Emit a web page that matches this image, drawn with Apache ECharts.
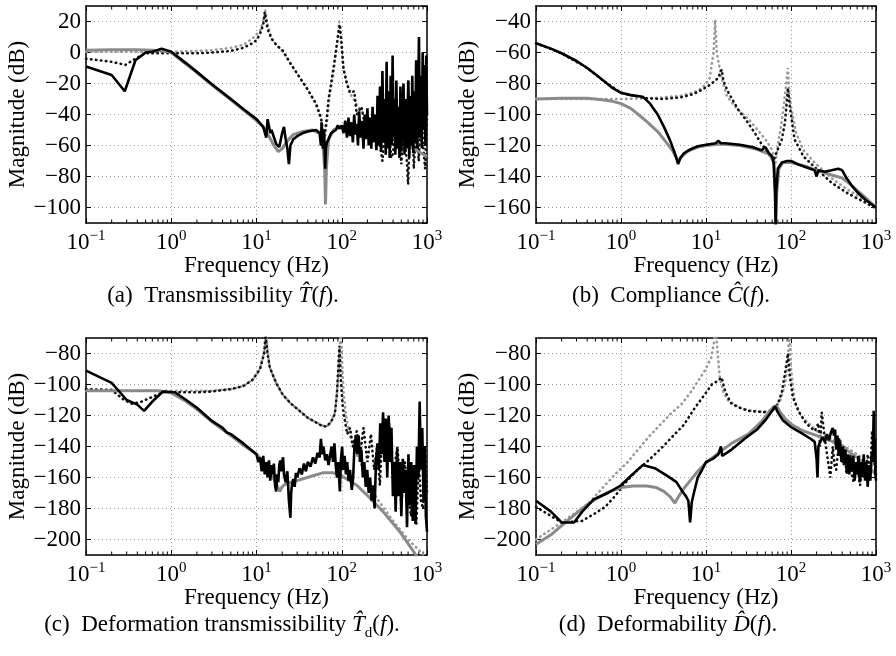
<!DOCTYPE html>
<html>
<head>
<meta charset="utf-8">
<script src="https://cdn.jsdelivr.net/npm/echarts@6/dist/echarts.min.js"></script>
<style>
  html, body { margin: 0; padding: 0; background: #fff; }
  #chart { width: 896px; height: 656px; }
</style>
</head>
<body>
<div id="chart"></div>
<script>
// (a) transmissibility
const aGraySolid = [[0.1, 1.5], [0.2, 1.8], [0.4, 1.8], [0.6, 1.5], [0.8, 1], [1, 0], [1.5, -7.7], [2, -13], [3, -21], [5, -30.5], [7, -37], [10, -44], [12, -48], [14, -54], [16, -60], [18, -64], [20, -62], [23, -57], [27, -53], [35, -51], [45, -50], [55, -52], [60, -58], [63, -75], [64.5, -98], [66, -75], [70, -56], [80, -50], [100, -48], [150, -48], [200, -49], [300, -52], [400, -55], [600, -60], [800, -64], [1000, -67]]
const aBlackSolid = [[0.1, -9], [0.2, -14.5], [0.285, -25], [0.38, -5], [0.5, 0], [0.6, 0.5], [0.77, 2.5], [1, 0.5], [1.5, -7], [2, -12.5], [3, -20.5], [5, -30], [7, -36.5], [10, -43], [12, -48], [13, -55], [13.5, -43], [14.5, -52], [15, -50], [17, -59], [18.5, -61], [20, -52], [21, -48], [22, -56], [23, -62], [24, -72], [25, -60], [27, -56], [30, -54], [35, -52], [40, -51], [50, -50], [55, -52], [57, -60], [58, -45], [60, -62], [62, -50], [64, -75], [65, -62], [67, -58], [70, -56], [75, -52], [85, -50], [90, -47], [95, -49],
  [100, -47], [105, -52], [110, -44], [115, -55], [120, -42], [125, -54], [130, -45], [135, -58], [140, -40], [145, -53], [150, -46], [155, -60], [160, -38], [167, -55], [173, -44], [180, -62], [186, -40], [193, -56], [200, -36], [207, -60], [214, -42], [222, -62], [230, -35], [238, -58], [246, -40], [255, -63], [263, -28], [272, -60], [281, -22], [290, -64], [300, -12], [310, -58], [320, -30], [328, -66], [336, -6], [345, -62], [355, -25], [365, -68], [375, -15], [385, -60], [395, -2], [405, -55], [415, -30], [425, -66], [437, -18], [450, -62], [462, -35], [475, -68], [488, -22], [500, -64], [515, -40], [530, -20], [545, -66], [560, -30], [575, -62], [590, -40], [605, -18], [620, -68], [637, -28], [655, -60], [672, -15], [690, -65], [708, -25], [727, -58], [746, -5], [765, -62], [785, -30], [805, 10], [825, -55], [846, -15], [868, -62], [890, 0], [912, -50], [935, -8], [958, -60], [980, -2], [1000, -40]]
const aGrayDotted = [[0.1, 0.5], [0.5, 0.5], [1, 0.5], [2, 1], [3, 1.5], [5, 3], [7, 5], [9, 9], [11, 14], [12.3, 22], [12.7, 27], [13.3, 20], [15, 9], [17, 5], [20, 1], [25, -7], [32, -16], [40, -24], [50, -34], [57, -43], [62, -58], [66, -48], [72, -28], [80, -14], [88, 5], [93, 20], [97, 10], [103, -8], [115, -20], [130, -28], [160, -36], [200, -42], [300, -50], [500, -58], [700, -62], [1000, -67]]
const aBlackDotted = [[0.1, -4], [0.2, -6], [0.29, -8], [0.38, -4], [0.5, -0.5], [1, -0.5], [2, -0.5], [3, 0], [5, 1], [7, 3], [9, 6], [10, 8], [11, 12], [12, 18], [12.5, 26], [13.5, 15], [15, 9], [17, 5], [20.5, 1], [25, -7], [32, -16], [40, -24], [50, -33], [57, -42], [62, -55], [66, -45], [70, -30], [75, -20], [80, -10], [85, 0], [90, 10], [95, 18], [100, 5], [105, -11], [115, -20], [125, -26], [140, -25], [150, -40], [170, -35], [200, -55], [230, -42], [250, -45], [280, -60], [300, -70], [330, -40], [350, -42], [380, -68], [400, -65], [430, -45], [450, -50], [480, -60], [500, -72], [530, -45], [550, -55], [580, -70], [600, -85], [630, -50], [650, -60], [680, -45], [700, -75], [750, -45], [800, -70], [850, -30], [900, -60], [950, -75], [1000, -40]]

// (b) compliance
const bGraySolid = [[0.1, -90], [0.2, -89.5], [0.4, -89.5], [0.6, -90.5], [0.8, -91.5], [1, -93], [1.3, -96], [1.6, -100], [2, -104.5], [2.7, -111], [3.3, -117], [4, -123], [4.7, -130], [5.2, -127], [6, -124], [8, -121], [10, -120], [15, -119], [25, -120], [40, -122.5], [55, -125.5], [62, -130], [65, -150], [66, -172], [68, -150], [72, -135], [80, -131], [100, -131], [150, -133.5], [200, -136], [300, -139], [400, -141], [500, -145], [600, -149], [800, -155], [1000, -160]]
const bBlackSolid = [[0.1, -54], [0.15, -57.5], [0.2, -60.5], [0.3, -65.5], [0.4, -70], [0.5, -74], [0.65, -79], [0.8, -83], [1, -86], [1.3, -87.5], [1.8, -88.5], [2.2, -93], [2.7, -100], [3.2, -108], [3.8, -117], [4.3, -125], [4.7, -132], [5, -128], [5.5, -125], [6.5, -122.5], [8, -120.5], [10, -119.5], [13, -118.5], [14, -117], [15, -118.5], [17, -118.5], [25, -119.5], [35, -121], [45, -123], [50, -121], [55, -125], [60, -127], [63, -132], [65, -150], [66, -172], [67, -150], [70, -135], [78, -131], [90, -130], [100, -130], [120, -132], [150, -134], [190, -136], [200, -140], [210, -136], [250, -137], [300, -136], [360, -135], [400, -136], [450, -141], [520, -146], [600, -150], [750, -155], [1000, -160]]
const bGrayDotted = [[0.1, -90], [0.5, -90], [1, -90], [2, -89.5], [3, -89], [5, -88], [7, -86], [9, -83], [11, -77], [12.3, -60], [12.8, -39], [13.4, -60], [15, -75], [17.6, -88], [22, -95], [32.8, -104], [42, -111], [51.5, -117], [60, -123], [66, -131], [70, -120], [74, -112], [80, -100], [86, -85], [90, -75], [92, -70], [95, -85], [100, -95], [115, -112], [140, -123], [197, -132], [315, -142], [450, -148], [640, -153], [1000, -160]]
const bBlackDotted = [[0.1, -54], [0.2, -60.5], [0.4, -70], [0.65, -79], [1, -86], [1.5, -88], [2, -89.5], [3, -90], [5, -89], [7, -87], [9, -84], [11, -81], [13, -78], [14, -76], [15.3, -71], [16, -78], [18, -85], [24, -97], [30, -104], [37.6, -112], [45, -119], [54, -125], [62, -130], [68, -124], [77.6, -116.6], [85, -105], [92, -83], [97, -95], [110, -116], [140, -127], [190, -134], [300, -144], [470, -151], [700, -156], [1000, -160.5]]

// (c) deformation transmissibility
const cGraySolid = [[0.1, -104], [0.3, -104], [0.5, -104], [0.7, -104], [1, -105.5], [1.5, -111], [2, -116], [3, -124], [5, -133], [7, -139], [10, -145], [13, -152], [15, -158], [17, -164], [18.7, -169], [20, -166], [22, -164], [30, -162], [45, -159], [60, -157], [80, -157], [100, -159], [150, -165], [195, -171], [305, -182], [480, -195], [690, -207.5], [760, -211]]
const cBlackSolid = [[0.1, -91], [0.2, -99], [0.3, -110], [0.4, -113], [0.48, -117], [0.6, -111], [0.8, -104.5], [1.1, -105], [1.5, -110], [2, -115], [3, -123.5], [4, -128], [4.5, -131], [5, -132], [7, -138],
  [10, -145], [10.5, -150], [11, -147], [11.5, -156], [12, -146], [12.5, -158], [13, -150], [13.5, -160], [14, -149], [14.5, -162], [15, -152], [15.5, -158], [16, -151], [16.5, -165], [17, -169], [17.5, -158], [18, -163], [18.5, -152], [19, -149], [19.5, -156], [20, -150], [20.5, -147], [21, -158], [22, -163], [23, -156], [24, -175], [25, -186], [25.5, -170], [26, -165], [27, -161], [28, -166], [29, -157], [30, -160], [32, -154], [34, -158], [36, -151], [38, -156], [40, -150], [43, -153], [46, -147], [49, -151], [52, -144], [55, -147], [57, -135], [59, -145], [61, -140], [64, -149], [67, -145], [70, -152], [73, -146], [76, -140], [79, -150], [82, -138], [85, -152], [88, -160], [91, -150], [95, -169], [98, -148], [101, -140], [104, -155], [108, -146], [112, -158], [116, -150], [120, -162], [125, -155], [131, -168], [136, -160], [141, -140], [146, -134], [152, -145], [158, -133], [164, -150], [170, -142], [177, -160], [184, -150], [191, -166], [199, -155], [207, -170], [215, -160], [224, -175], [233, -165], [243, -180], [252, -150], [262, -138], [272, -155], [283, -125], [294, -145], [305, -118], [317, -150], [329, -122], [342, -160], [355, -120], [369, -150], [383, -128], [398, -172], [413, -150], [429, -182], [446, -142], [463, -172], [481, -150], [500, -185], [520, -148], [540, -170], [561, -155], [583, -192], [606, -145], [630, -178], [654, -150], [680, -188], [706, -152], [733, -190], [762, -140], [792, -160], [820, -111], [850, -155], [880, -128], [910, -175], [940, -140], [970, -185], [1000, -195]]
const cGrayDotted = [[0.1, -104], [0.5, -104], [1, -104], [2, -104], [3, -104], [5, -103], [7, -101], [9, -97], [11, -90], [12.4, -78], [12.9, -65], [13.5, -78], [14.3, -89], [17, -99], [20.3, -106.5], [25, -112], [32, -117], [40, -121.5], [50, -124.5], [60, -126.5], [67, -127], [75, -124], [83, -118], [88, -105], [92, -90], [95, -75], [97, -65], [100, -80], [105, -105], [112, -120], [120, -130], [140, -142], [165, -150], [200, -163], [270, -175], [400, -188], [600, -200], [1000, -212]]
const cBlackDotted = [[0.1, -103], [0.2, -103.5], [0.28, -110], [0.35, -112.5], [0.45, -111], [0.6, -108], [0.8, -105], [1, -105], [2, -105], [3, -104.5], [5, -103], [7, -101], [9, -97], [11, -90], [12.3, -80], [12.8, -68], [13.5, -80], [14.3, -89], [17, -99], [20.3, -106.5], [25, -112], [32, -117], [40, -121.5], [50, -124.5], [60, -127], [67, -127], [75, -124], [83, -119], [88, -105], [91, -89], [94, -75], [97, -95], [103, -115], [110, -125], [116, -132], [125, -128], [135, -140], [150, -130], [165, -145], [180, -128], [200, -150], [220, -132], [240, -155], [260, -140], [280, -165], [300, -125], [330, -150], [360, -125], [400, -160], [450, -140], [500, -178], [550, -150], [600, -170], [650, -185], [700, -160], [750, -190], [800, -150], [850, -175], [900, -180], [950, -140], [1000, -170]]

// (d) deformability
const dGraySolid = [[0.1, -203], [0.15, -197], [0.2, -191], [0.3, -183], [0.4, -177.5], [0.5, -174], [0.7, -169.5], [1, -166.5], [1.4, -165.5], [2, -165.5], [2.6, -166.5], [3.2, -169], [3.8, -172.5], [4.3, -176.5], [4.8, -172], [5.5, -167], [6.2, -163.5], [8, -156], [10, -150.5], [15, -143], [20, -138], [31.5, -132], [45, -124], [55, -118], [62, -114.5], [68, -114], [75, -118], [85, -122], [103, -126], [140, -130], [190, -132.5], [300, -136.5], [470, -143], [700, -150], [1000, -158]]
const dBlackSolid = [[0.1, -175], [0.15, -182], [0.2, -189], [0.28, -189], [0.35, -182], [0.48, -174], [0.7, -170], [1, -165], [1.3, -159], [1.8, -152], [2.5, -154], [3.5, -159], [4.5, -163], [5.2, -168.5], [5.8, -172], [6.2, -175], [6.5, -189], [6.8, -176], [7.2, -170], [8, -160], [9, -155], [10, -150], [12, -148], [14, -145], [15, -140], [15.5, -146], [20, -142], [30, -134], [40, -129], [50, -123], [60, -117], [65, -114], [70, -118], [80, -123], [100, -127.5], [130, -131], [170, -135],
  [190, -137], [200, -148], [205, -160], [210, -140], [220, -137], [235, -134], [250, -137], [265, -132], [280, -136], [295, -131], [310, -128], [320, -133], [330, -129], [340, -142], [352, -133], [365, -146], [378, -136], [392, -150], [406, -140], [420, -152], [436, -142], [452, -156], [468, -145], [485, -158], [503, -147], [521, -155], [540, -146], [560, -162], [580, -150], [601, -158], [622, -146], [645, -163], [668, -150], [692, -160], [717, -145], [743, -162], [770, -150], [798, -166], [827, -152], [857, -162], [888, -145], [915, -150], [940, -117], [955, -150], [970, -135], [985, -158], [1000, -162]]
const dGrayDotted = [[0.1, -200], [0.2, -189], [0.41, -177], [0.6, -167], [0.85, -158], [1.2, -150], [2.1, -134], [3, -125], [4, -118], [5.2, -112.5], [7, -103], [9.7, -91], [11.5, -83], [12.5, -72], [13, -60], [13.5, -75], [14.5, -95], [16, -105], [18, -110], [25, -115], [35, -117], [50, -117.5], [65, -115], [75, -110], [85, -100], [92, -85], [96, -60], [100, -90], [110, -110], [130, -120], [200, -130], [300, -135], [600, -145], [1000, -155]]
const dBlackDotted = [[0.1, -179], [0.2, -189], [0.35, -188], [0.5, -183], [0.65, -179], [0.85, -172], [1.1, -164], [1.5, -156], [2.1, -149], [3, -141], [4.3, -132], [5.5, -126], [7.4, -115], [9.5, -107], [11.7, -100], [13.5, -98], [15.3, -95.5], [16.5, -103], [18, -108], [20, -112.5], [25, -115], [31.5, -117], [40, -117.5], [54, -118], [62, -116], [70, -112.5], [78, -105], [85, -93], [92, -80], [97, -95], [105, -108], [122, -117], [150, -125], [190, -130], [210, -125], [220, -140], [230, -118], [250, -135], [270, -148], [290, -160], [310, -140], [325, -152], [340, -155], [370, -135], [400, -150], [425, -140], [450, -158], [500, -145], [525, -160], [550, -163], [600, -152], [650, -165], [700, -150], [750, -160], [800, -145], [850, -160], [900, -130], [950, -150], [1000, -158]]

const minorTicks = [0.2, 0.3, 0.4, 0.5, 0.6, 0.7, 0.8, 0.9, 2, 3, 4, 5, 6, 7, 8, 9, 20, 30, 40, 50, 60, 70, 80, 90, 200, 300, 400, 500, 600, 700, 800, 900]
const yRanges = [[-110, 30], [-170, -30], [-210, -70], [-210, -70]]

const FONT = 'Liberation Serif'
const FS = 23
const panels = [
  { grid: { left: 86, top: 6, width: 341, height: 217 }, data: [aGrayDotted, aBlackDotted, aGraySolid, aBlackSolid] },
  { grid: { left: 536, top: 6, width: 340, height: 217 }, data: [bGrayDotted, bBlackDotted, bGraySolid, bBlackSolid] },
  { grid: { left: 86, top: 338, width: 341, height: 217 }, data: [cGrayDotted, cBlackDotted, cGraySolid, cBlackSolid] },
  { grid: { left: 536, top: 338, width: 340, height: 217 }, data: [dGrayDotted, dBlackDotted, dGraySolid, dBlackSolid] }
]
const lineStyles = [
  { color: '#9a9a9a', width: 2.6, type: [0.5, 4.5], cap: 'round' },
  { color: '#111', width: 2.6, type: [0.5, 4.5], cap: 'round' },
  { color: '#8a8a8a', width: 3, type: 'solid' },
  { color: '#000', width: 2.6, type: 'solid' }
]

const axisLine = { onZero: false, lineStyle: { color: '#000', width: 1.5 } }
const grids = []
const xAxes = []
const yAxes = []
const series = []

panels.forEach((p, i) => {
  grids.push(p.grid)
  const [ymin, ymax] = yRanges[i]
  xAxes.push({
    type: 'log', logBase: 10, min: 0.1, max: 1000, gridIndex: i,
    name: 'Frequency (Hz)', nameLocation: 'middle', nameGap: 17,
    nameTextStyle: { fontFamily: FONT, fontSize: FS, color: '#000' },
    axisLine: axisLine,
    axisTick: { inside: true, length: 5, lineStyle: { color: '#000' } },
    splitLine: { show: true, lineStyle: { color: '#999', type: [1, 3], width: 1 } },
    axisLabel: {
      margin: 6,
      formatter: (v) => {
        const e = Math.round(Math.log10(v))
        return '{b|10}{s|' + (e < 0 ? '\u2212' + (-e) : e) + '}'
      },
      rich: {
        b: { fontFamily: FONT, fontSize: FS, color: '#000', lineHeight: 25, verticalAlign: 'bottom' },
        s: { fontFamily: FONT, fontSize: 15, color: '#000', lineHeight: 15, verticalAlign: 'top' }
      }
    }
  })
  xAxes.push({
    type: 'log', logBase: 10, min: 0.1, max: 1000, gridIndex: i, position: 'top',
    axisLine: axisLine,
    axisTick: { inside: true, length: 5, lineStyle: { color: '#000' } },
    axisLabel: { show: false },
    splitLine: { show: false }
  })
  yAxes.push({
    type: 'value', min: ymin, max: ymax, splitNumber: 7, gridIndex: i,
    name: 'Magnitude (dB)', nameLocation: 'middle', nameGap: 55,
    nameTextStyle: { fontFamily: FONT, fontSize: FS, color: '#000' },
    axisLine: axisLine,
    axisTick: { inside: true, length: 5, lineStyle: { color: '#000' } },
    splitLine: { show: true, lineStyle: { color: '#999', type: [1, 3], width: 1 } },
    axisLabel: {
      margin: 5, fontFamily: FONT, fontSize: FS, color: '#000',
      showMinLabel: false, showMaxLabel: false,
      formatter: (v) => String(v).replace('-', '\u2212')
    }
  })
  yAxes.push({
    type: 'value', min: ymin, max: ymax, splitNumber: 7, gridIndex: i, position: 'right',
    axisLine: axisLine,
    axisTick: { inside: true, length: 5, lineStyle: { color: '#000' } },
    axisLabel: { show: false },
    splitLine: { show: false }
  })
  p.data.forEach((d, k) => {
    series.push({
      type: 'line', xAxisIndex: 2 * i, yAxisIndex: 2 * i, data: d,
      symbol: 'none', smooth: false, animation: false, clip: true,
      lineStyle: lineStyles[k]
    })
  })
  // minor log ticks, bottom and top
  series.push({
    type: 'custom', xAxisIndex: 2 * i, yAxisIndex: 2 * i, animation: false, silent: true,
    data: minorTicks.map((f) => [f, ymin]),
    renderItem: (params, api) => {
      const x = api.coord([api.value(0), api.value(1)])[0]
      const cs = params.coordSys
      const st = { stroke: '#000', lineWidth: 1 }
      return {
        type: 'group',
        children: [
          { type: 'line', shape: { x1: x, y1: cs.y + cs.height, x2: x, y2: cs.y + cs.height - 3.5 }, style: st },
          { type: 'line', shape: { x1: x, y1: cs.y, x2: x, y2: cs.y + 3.5 }, style: st }
        ]
      }
    }
  })
})

const capStyle = { fontFamily: FONT, fontSize: FS, fill: '#000' }
const capRich = {
  it: { fontFamily: FONT, fontSize: FS, fontStyle: 'italic', color: '#000' },
  sub: { fontFamily: FONT, fontSize: 15, color: '#000', verticalAlign: 'bottom', lineHeight: 15, padding: [0, 0, -4, 0] }
}
const captions = [
  { x: 223, y: 296, text: '(a)  Transmissibility {it|T\u0302}({it|f}).' },
  { x: 671, y: 296, text: '(b)  Compliance {it|C\u0302}({it|f}).' },
  { x: 222, y: 625, text: '(c)  Deformation transmissibility {it|T\u0302}{sub|d}({it|f}).' },
  { x: 668, y: 625, text: '(d)  Deformability {it|D\u0302}({it|f}).' }
]

var myChart = echarts.init(document.getElementById('chart'))
var option = {
  animation: false,
  backgroundColor: '#fff',
  grid: grids,
  xAxis: xAxes,
  yAxis: yAxes,
  series: series,
  graphic: captions.map((c) => ({
    type: 'text', x: c.x, y: c.y,
    style: Object.assign({}, capStyle, { text: c.text, rich: capRich, align: 'center', verticalAlign: 'middle' })
  }))
}
myChart.setOption(option)
</script>
</body>
</html>
